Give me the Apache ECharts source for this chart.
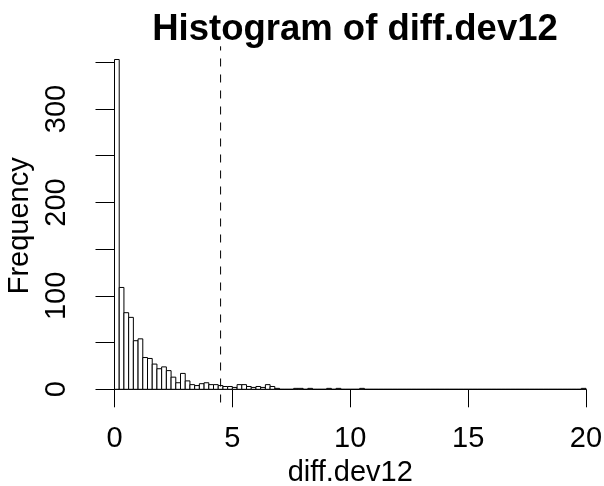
<!DOCTYPE html>
<html>
<head>
<meta charset="utf-8">
<script src="https://cdn.jsdelivr.net/npm/echarts@6/dist/echarts.min.js"></script>
<style>html,body{margin:0;padding:0;background:#fff}#c{width:604px;height:486px}</style>
</head>
<body>
<div id="c"></div>
<script>
// Histogram of diff.dev12 — bins of width 0.2 from 0 to 20
const binWidth = 0.2;
const binStart = 0;
const counts = [
  353,109,82,77,52,54,34,33,27,22,
  24,20,13,7,17,9,5,4,6,7,
  5,5,4,3,3,2,5,5,3,2,
  3,2,5,3,1,0,0,0,1,1,
  0,1,0,0,0,1,0,1,0,0,
  0,0,1,0,0,0,0,0,0,0,
  0,0,0,0,0,0,0,0,0,0,
  0,0,0,0,0,0,0,0,0,0,
  0,0,0,0,0,0,0,0,0,0,
  0,0,0,0,0,0,0,0,0,1
];
const xTicks = [0, 5, 10, 15, 20];
const yTicks = [0, 50, 100, 150, 200, 250, 300, 350];
const yLabelled = [0, 100, 200, 300];
const cutoff = 4.5;   // dashed vertical reference line
const titleText = 'Histogram of diff.dev12';
const xName = 'diff.dev12';
const yName = 'Frequency';

const FONT = "'Liberation Sans', Arial, Helvetica, sans-serif";
const barData = counts.map((c, i) => [binStart + i * binWidth, binStart + (i + 1) * binWidth, c]);
const maxC = Math.max(...counts);
const pad = maxC * 0.04;

const chart = echarts.init(document.getElementById('c'), null, {renderer: 'canvas'});
chart.setOption({
  animation: false,
  backgroundColor: '#fff',
  title: {
    text: titleText,
    left: 350, top: 6, textAlign: 'center',
    textStyle: {fontFamily: FONT, fontWeight: 'bold', fontSize: 36.5, color: '#000'}
  },
  grid: {left: 114.5, right: 18, top: 62.3, bottom: 96.7, containLabel: false, outerBoundsMode: 'none'},
  xAxis: {
    type: 'value', min: xTicks[0], max: xTicks[xTicks.length - 1], interval: 5,
    offset: 13.3,
    name: xName, nameLocation: 'middle', nameGap: 54,
    nameTextStyle: {fontFamily: FONT, fontSize: 29, color: '#000'},
    axisLine: {show: true, lineStyle: {color: '#000', width: 1}},
    axisTick: {show: true, length: 18, lineStyle: {color: '#000', width: 1}},
    axisLabel: {fontFamily: FONT, fontSize: 29, color: '#000', margin: 22},
    splitLine: {show: false}
  },
  yAxis: {
    type: 'value', min: yTicks[0], max: yTicks[yTicks.length - 1], interval: 50,
    offset: 18.9,
    name: yName, nameLocation: 'middle', nameGap: 56, nameRotate: 90,
    nameTextStyle: {fontFamily: FONT, fontSize: 29, color: '#000'},
    axisLine: {show: true, lineStyle: {color: '#000', width: 1}},
    axisTick: {show: true, length: 19, lineStyle: {color: '#000', width: 1}},
    axisLabel: {
      fontFamily: FONT, fontSize: 29, color: '#000', margin: 24, rotate: 90,
      formatter: v => yLabelled.indexOf(v) >= 0 ? String(v) : ''
    },
    splitLine: {show: false}
  },
  series: [
    {
      type: 'custom',
      data: barData,
      encode: {x: [0, 1], y: 2},
      renderItem: function (params, api) {
        const p0 = api.coord([api.value(0), api.value(2)]);
        const p1 = api.coord([api.value(1), 0]);
        return {
          type: 'rect',
          shape: {x: p0[0], y: p0[1], width: p1[0] - p0[0], height: p1[1] - p0[1]},
          style: {fill: '#fff', stroke: '#000', lineWidth: 1}
        };
      },
      silent: true
    },
    {
      type: 'line',
      data: [[cutoff, -pad], [cutoff, maxC + pad]],
      clip: false,
      symbol: 'none',
      lineStyle: {color: '#000', width: 1, type: [8, 8]},
      silent: true
    }
  ]
});
</script>
</body>
</html>
